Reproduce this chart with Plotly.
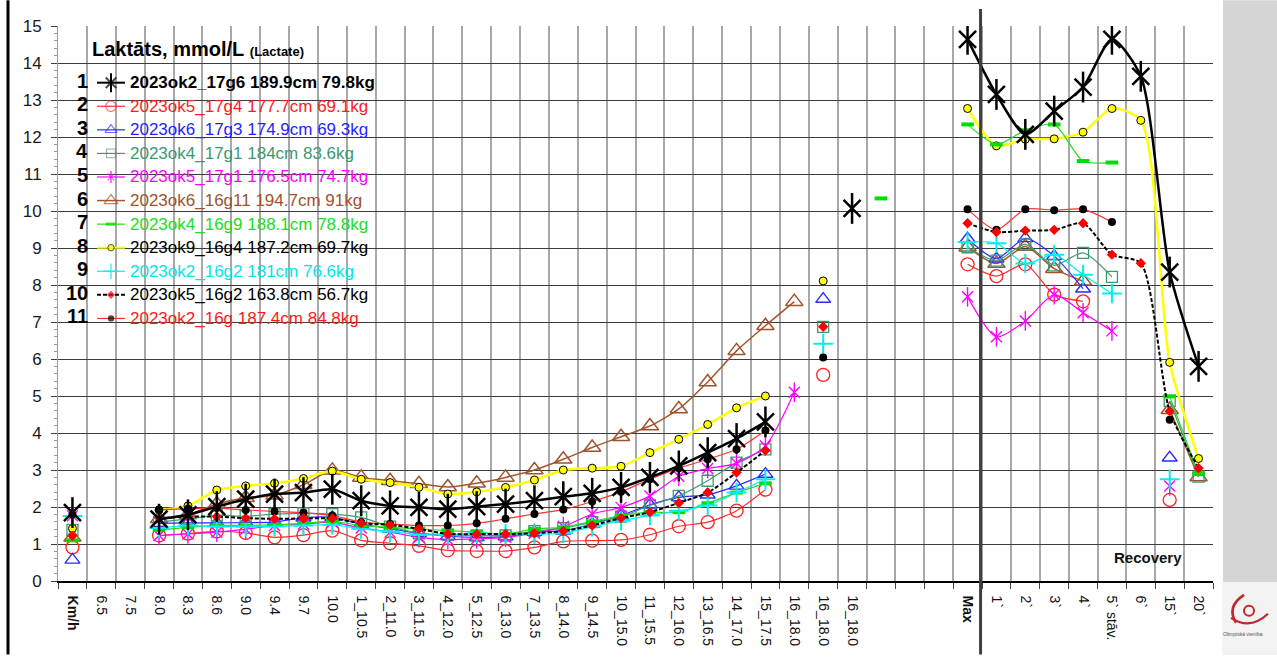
import plotly.graph_objects as go

FONT = "Liberation Sans, Arial, sans-serif"
N = None

# x categories: speed steps, extra stage slots, then max and recovery minutes
categories = ["Km/h", "6.5", "7.5", "8.0", "8.3", "8.6", "9.0", "9.4", "9.7", "10.0",
              "1_10.5", "2_11.0", "3_11.5", "4_12.0", "5_12.5", "6_13.0", "7_13.5",
              "8_14.0", "9_14.5", "10_15.0", "11_15.5", "12_16.0", "13_16.5", "14_17.0",
              "15_17.5", "16_18.0", "16_18.0", "16_18.0", "", "", "",
              "Max", "1`", "2`", "3`", "4`", "5` stāv.", "6`", "15`", "20`"]
bold_ticks = ["Km/h", "Max"]

names = ["2023ok2_17g6 189.9cm 79.8kg", "2023ok5_17g4 177.7cm 69.1kg",
         "2023ok6_17g3 174.9cm 69.3kg", "2023ok4_17g1 184cm 83.6kg",
         "2023ok5_17g1 176.5cm 74.7kg", "2023ok6_16g11 194.7cm 91kg",
         "2023ok4_16g9 188.1cm 78.8kg", "2023ok9_16g4 187.2cm 69.7kg",
         "2023ok2_16g2 181cm 76.6kg", "2023ok5_16g2 163.8cm 56.7kg",
         "2023ok2_16g 187.4cm 84.8kg"]

# lactate, mmol/L: [Km/h] + gap + steps 8.0..15_17.5 + slots 16_18.0 x3, spare + gap + Max..20`
lac_1 = [1.85] + [N, N] + [1.67, 1.79, 2.01, 2.21, 2.35, 2.39, 2.48, 2.17, 2.03, 1.99, 1.94,
                           2.01, 2.08, 2.17, 2.28, 2.37, 2.53, 2.80, 3.11, 3.47, 3.85, 4.30] \
    + [N, N, 10.07, N] + [N, N] + [14.64, 13.15, 12.07, 12.70, 13.35, 14.64, 13.64, 8.35, 5.80]
lac_2 = [0.91] + [N, N] + [1.23, 1.28, 1.34, 1.30, 1.18, 1.24, 1.36, 1.10, 1.02, 0.95, 0.83,
                           0.81, 0.81, 0.91, 1.07, 1.09, 1.11, 1.25, 1.48, 1.59, 1.90, 2.47] \
    + [N, 5.57, N, N] + [N, N] + [8.56, 8.24, 8.56, 7.74, 7.56, N, N, 2.19, N]
lac_3 = [0.57] + [N, N] + [1.56, 1.57, 1.57, 1.58, 1.59, 1.71, 1.72, 1.54, 1.41, 1.29, 1.21,
                           1.18, 1.20, 1.32, 1.36, 1.54, 1.77, 2.06, 2.26, 2.33, 2.57, 2.89] \
    + [N, 7.62, N, N] + [N, N] + [9.25, 8.71, 9.26, 8.78, 7.90, N, N, 3.33, N]
lac_4 = [1.38] + [N, N] + [1.59, 1.68, 1.77, 1.75, 1.81, 1.83, 1.81, 1.72, 1.47, 1.29, 1.25,
                           1.23, 1.23, 1.35, 1.43, 1.59, 1.74, 2.04, 2.30, 2.71, 3.20, 3.56] \
    + [N, 6.87, N, N] + [N, N] + [9.02, 8.66, 9.10, 8.53, 8.87, 8.22, N, 4.87, 2.82]
lac_5 = [1.76] + [N, N] + [1.23, 1.27, 1.32, 1.40, 1.50, 1.54, 1.59, 1.43, 1.32, 1.18, 1.12,
                           1.14, 1.18, 1.29, 1.47, 1.81, 1.99, 2.30, 2.83, 3.04, 3.18, 3.65] \
    + [5.10, N, N, N] + [N, N] + [7.68, 6.60, 7.03, 7.74, 7.25, 6.76, N, 2.57, N]
lac_6 = [1.18] + [N, N] + [1.68, 1.79, 2.08, 2.25, 2.32, 2.60, 2.99, 2.80, 2.71, 2.63, 2.54,
                           2.64, 2.80, 3.00, 3.29, 3.61, 3.90, 4.19, 4.65, 5.38, 6.22, 6.90] \
    + [7.55, N, N, N] + [N, N] + [9.02, 8.58, 9.04, 8.44, 8.10, N, N, 4.63, 2.81]
lac_7 = [1.10] + [N, N] + [1.38, 1.45, 1.50, 1.50, 1.52, 1.56, 1.61, 1.50, 1.45, 1.41, 1.36,
                           1.32, 1.27, 1.41, 1.45, 1.61, 1.77, 1.86, 1.86, 2.10, 2.39, 2.64] \
    + [N, N, N, 10.34] + [N, N] + [12.34, 11.80, 12.18, 12.34, 11.35, 11.31, N, 4.99, 2.89]
lac_8 = [1.42] + [N, N] + [1.92, 2.03, 2.46, 2.57, 2.64, 2.77, 2.97, 2.75, 2.66, 2.53, 2.35,
                           2.41, 2.53, 2.73, 3.00, 3.05, 3.10, 3.47, 3.83, 4.23, 4.68, 5.00] \
    + [N, 8.11, N, N] + [N, N] + [12.77, 11.76, 11.94, 11.95, 12.13, 12.77, 12.45, 5.91, 3.31]
lac_9 = [1.76] + [N, N] + [1.43, 1.50, 1.47, 1.47, 1.47, 1.50, 1.52, 1.41, 1.34, 1.25, 1.25,
                           1.29, 1.27, 1.27, 1.29, 1.47, 1.63, 1.77, 1.90, 2.04, 2.39, 2.75] \
    + [N, 6.41, N, N] + [N, N] + [9.16, 9.13, 8.58, 8.82, 8.28, 7.77, N, 2.75, N]
lac_10 = [1.22] + [N, N] + [1.70, 1.74, 1.74, 1.70, 1.68, 1.69, 1.69, 1.56, 1.52, 1.41, 1.27,
                            1.27, 1.27, 1.29, 1.35, 1.50, 1.70, 1.86, 2.11, 2.39, 2.93, 3.53] \
    + [N, 6.87, N, N] + [N, N] + [9.67, 9.43, 9.47, 9.49, 9.67, 8.82, 8.59, 4.59, 3.05]
lac_11 = [1.80] + [N, N] + [1.93, 1.95, 1.97, 1.92, 1.88, 1.85, 1.77, 1.59, 1.54, 1.50, 1.50,
                            1.56, 1.68, 1.81, 1.93, 2.15, 2.41, 2.75, 3.05, 3.29, 3.56, 4.07] \
    + [N, 6.04, N, N] + [N, N] + [10.05, 9.49, 10.05, 10.02, 10.05, 9.70, N, 4.36, N]

series = [lac_1, lac_2, lac_3, lac_4, lac_5, lac_6, lac_7, lac_8, lac_9, lac_10, lac_11]

# drawing style of each athlete's curve
styles = [
    dict(line="#000000", lw=2.5, dash="solid", sym="x-thin-open", ms=17, mc="#000000", mlw=2.5, star=22, text="#000000", bold=True),
    dict(line="#ff2a2a", lw=1.2, dash="solid", sym="circle-open", ms=13, mc="#ff2020", mlw=1.3, star=0, text="#ff1a1a", bold=False),
    dict(line="#2b2bff", lw=1.2, dash="solid", sym="triangle-up-open", ms=13, mc="#2b2bff", mlw=1.4, star=0, text="#1f1fff", bold=False),
    dict(line="#3d9970", lw=1.2, dash="solid", sym="square-open", ms=11, mc="#3d9970", mlw=1.3, star=0, text="#3d9970", bold=False),
    dict(line="#ff00ff", lw=1.2, dash="solid", sym="x-thin-open", ms=11, mc="#ff00ff", mlw=1.4, star=14, text="#ff00ff", bold=False),
    dict(line="#a5562a", lw=1.5, dash="solid", sym="triangle-up-open", ms=15, mc="#a0522d", mlw=1.5, star=0, text="#a0522d", bold=False),
    dict(line="#22dd22", lw=1.2, dash="solid", sym="line-ew-open", ms=9, mc="#00dd00", mlw=4, star=0, text="#22dd22", bold=False),
    dict(line="#ffff00", lw=2.5, dash="solid", sym="circle", ms=8, mc="#ffff00", mlw=1, star=0, text="#000000", bold=False),
    dict(line="#00f0f0", lw=1.2, dash="solid", sym="cross-thin-open", ms=14, mc="#00f0f0", mlw=2, star=0, text="#00e5ee", bold=False),
    dict(line="#000000", lw=2.0, dash="4px,2px", sym="diamond", ms=8, mc="#ff0000", mlw=0, star=0, text="#000000", bold=False),
    dict(line="#ff3333", lw=1.2, dash="solid", sym="circle", ms=8, mc="#000000", mlw=0, star=0, text="#ff1a1a", bold=False),
]

# canvas geometry
W, H = 1277, 658
ML, MR, MT, MB = 58, 64, 26, 74
PW, PH = W - ML - MR, H - MT - MB


def fx(px):
    return (px - ML) / PW


def fy(py):
    return (H - MB - py) / PH


def marker_for(st, scale=1.0):
    m = dict(symbol=st["sym"], size=st["ms"] * scale, color=st["mc"])
    if st["sym"] == "circle" and st["mc"] == "#ffff00":
        m["line"] = dict(color="#000000", width=st["mlw"])
    else:
        m["line"] = dict(color=st["mc"], width=st["mlw"] * (0.8 if scale < 1 else 1))
    return m


def star_marker(st, scale=1.0):
    # vertical stroke that turns the X marker into a six-armed asterisk
    return dict(symbol="line-ns-open", size=st["star"] * scale, color=st["mc"],
                line=dict(color=st["mc"], width=st["mlw"] * (0.8 if scale < 1 else 1)))


xs = list(range(len(categories)))
fig = go.Figure()

draw_order = [5, 7, 1, 2, 3, 4, 6, 8, 10, 9, 0]
for i in draw_order:
    st, ys = styles[i], series[i]
    fig.add_trace(go.Scatter(
        x=xs, y=ys, mode="lines+markers", connectgaps=False, showlegend=False,
        line=dict(color=st["line"], width=st["lw"], dash=st["dash"], shape="spline", smoothing=0.7),
        marker=marker_for(st), hoverinfo="skip"))
    if st["star"]:
        fig.add_trace(go.Scatter(
            x=xs, y=ys, mode="markers", showlegend=False, hoverinfo="skip",
            marker=star_marker(st)))

# hand-built legend: sample line + marker drawn on a pixel-scaled overlay axis
ROW0, ROWSTEP = 83, 23.7
annotations = []
for i, (name, st) in enumerate(zip(names, styles)):
    row = ROW0 + i * ROWSTEP
    scale = 0.62 if st["star"] else 0.8
    fig.add_trace(go.Scatter(
        x=[97, 111, 125], y=[row, row, row], xaxis="x2", yaxis="y2",
        mode="lines+markers", showlegend=False, hoverinfo="skip",
        line=dict(color=st["line"], width=min(st["lw"], 2), dash=st["dash"]),
        marker=dict(marker_for(st, scale), size=[0, st["ms"] * scale, 0])))
    if st["star"]:
        fig.add_trace(go.Scatter(
            x=[111], y=[row], xaxis="x2", yaxis="y2", mode="markers",
            showlegend=False, hoverinfo="skip", marker=star_marker(st, scale)))
    annotations.append(dict(x=fx(90), y=fy(row - 2), xref="paper", yref="paper",
                            text=f"<b>{i + 1}</b>", showarrow=False, xanchor="right",
                            yanchor="middle", font=dict(size=20, color="#000000", family=FONT)))
    label = f"<b>{name}</b>" if st["bold"] else name
    annotations.append(dict(x=fx(128), y=fy(row), xref="paper", yref="paper",
                            text=label, showarrow=False, xanchor="left", yanchor="middle",
                            font=dict(size=17, color=st["text"], family=FONT)))

annotations.append(dict(x=fx(90), y=fy(49), xref="paper", yref="paper", showarrow=False,
                        xanchor="left", yanchor="middle",
                        text="<b>Laktāts, mmol/L</b> <b><span style='font-size:13px'>(Lactate)</span></b>",
                        font=dict(size=20, color="#000000", family=FONT)))
annotations.append(dict(x=fx(1148), y=fy(560), xref="paper", yref="paper", showarrow=False,
                        xanchor="center", yanchor="middle", text="<b>Recovery</b>",
                        font=dict(size=15, color="#111111", family=FONT)))
annotations.append(dict(x=fx(1243), y=fy(637), xref="paper", yref="paper", showarrow=False,
                        xanchor="center", yanchor="middle", text="Olimpiskā vienība",
                        font=dict(size=5, color="#555555", family=FONT)))


def ppath(points):
    # SVG path in paper units from pixel coordinates
    out = []
    for cmd, pts in points:
        coords = " ".join(f"{fx(a):.5f},{fy(b):.5f}" for a, b in pts)
        out.append(f"{cmd}{coords}")
    return " ".join(out)


shapes = [
    # slide background on the right and top-right
    dict(type="rect", xref="paper", yref="paper", x0=fx(1223), x1=fx(W), y0=fy(H), y1=fy(0),
         fillcolor="#d5d5d5", line=dict(width=0), layer="below"),
    dict(type="path", xref="paper", yref="paper",
         path=ppath([("M", [(1250, 0)]), ("L", [(1277, 0), (1277, 250), (1240, 585), (1232, 585)]), ("Z", [])]),
         fillcolor="#dfdfdf", line=dict(width=0), layer="below"),
    dict(type="path", xref="paper", yref="paper",
         path=ppath([("M", [(1000, 0)]), ("L", [(1223, 0), (1223, 9), (1003, 9)]), ("Z", [])]),
         fillcolor="#c4c4c4", line=dict(width=0), layer="below"),
    dict(type="path", xref="paper", yref="paper",
         path=ppath([("M", [(1165, 0)]), ("L", [(1223, 0), (1223, 9), (1162, 9)]), ("Z", [])]),
         fillcolor="#d9d9d9", line=dict(width=0), layer="below"),
    dict(type="rect", xref="paper", yref="paper", x0=fx(1222), x1=fx(W), y0=fy(H), y1=fy(585),
         fillcolor="#f3f3f3", line=dict(width=0), layer="below"),
    # logo
    dict(type="path", xref="paper", yref="paper",
         path=ppath([("M", [(1244, 598)]), ("Q", [(1226, 610), (1236, 626)])]),
         line=dict(color="#c1272d", width=2.6)),
    dict(type="path", xref="paper", yref="paper",
         path=ppath([("M", [(1231, 621)]), ("Q", [(1250, 634), (1268, 617)])]),
         line=dict(color="#c1272d", width=2.2)),
    dict(type="circle", xref="paper", yref="paper", x0=fx(1244), x1=fx(1254), y0=fy(619), y1=fy(609),
         line=dict(color="#c1272d", width=2)),
    # slide left border
    dict(type="line", xref="paper", yref="paper", x0=fx(8), x1=fx(8), y0=fy(H), y1=fy(0),
         line=dict(color="#000000", width=3)),
    # separator between the test and the recovery part
    dict(type="line", xref="x", yref="paper", x0=31.45, x1=31.45, y0=fy(H), y1=fy(9),
         line=dict(color="#3f3f3f", width=3)),
]

ticktext = [f"<b>{c}</b>" if c in bold_ticks else c for c in categories]

fig.update_layout(
    width=W, height=H, margin=dict(l=ML, r=MR, t=MT, b=MB, pad=0),
    paper_bgcolor="#ffffff", plot_bgcolor="#ffffff", showlegend=False,
    font=dict(family=FONT, color="#111111"),
    xaxis=dict(range=[-0.5, len(categories) - 0.5], tickmode="array", tickvals=xs, ticktext=ticktext,
               tickangle=90, ticks="", showgrid=False, zeroline=False, showline=True,
               linecolor="#000000", linewidth=1.5, ticklabelstandoff=10,
               tickfont=dict(size=14, color="#111111", family=FONT),
               minor=dict(tickmode="linear", tick0=-0.5, dtick=1, showgrid=True, gridcolor="#a8a8a8",
                          gridwidth=2, ticks="outside", ticklen=6, tickcolor="#444444", tickwidth=1.3)),
    yaxis=dict(range=[0, 15], tickmode="linear", tick0=0, dtick=1, showgrid=True, gridcolor="#3c3c3c",
               gridwidth=1.3, ticks="outside", ticklen=6, tickcolor="#3c3c3c", tickwidth=1.3,
               showline=True, linecolor="#9a9a9a", linewidth=1, zeroline=False, ticklabelstandoff=6,
               tickfont=dict(size=17, color="#1a1a1a", family=FONT),
               minor=dict(tickmode="linear", tick0=0, dtick=0.2, ticks="outside", ticklen=3,
                          tickcolor="#9a9a9a", showgrid=False)),
    xaxis2=dict(overlaying="x", anchor="y2", range=[ML, W - MR], visible=False, showgrid=False),
    yaxis2=dict(overlaying="y", anchor="x2", range=[H - MB, MT], visible=False, showgrid=False),
    annotations=annotations, shapes=shapes,
)

fig.write_html("out.html")
